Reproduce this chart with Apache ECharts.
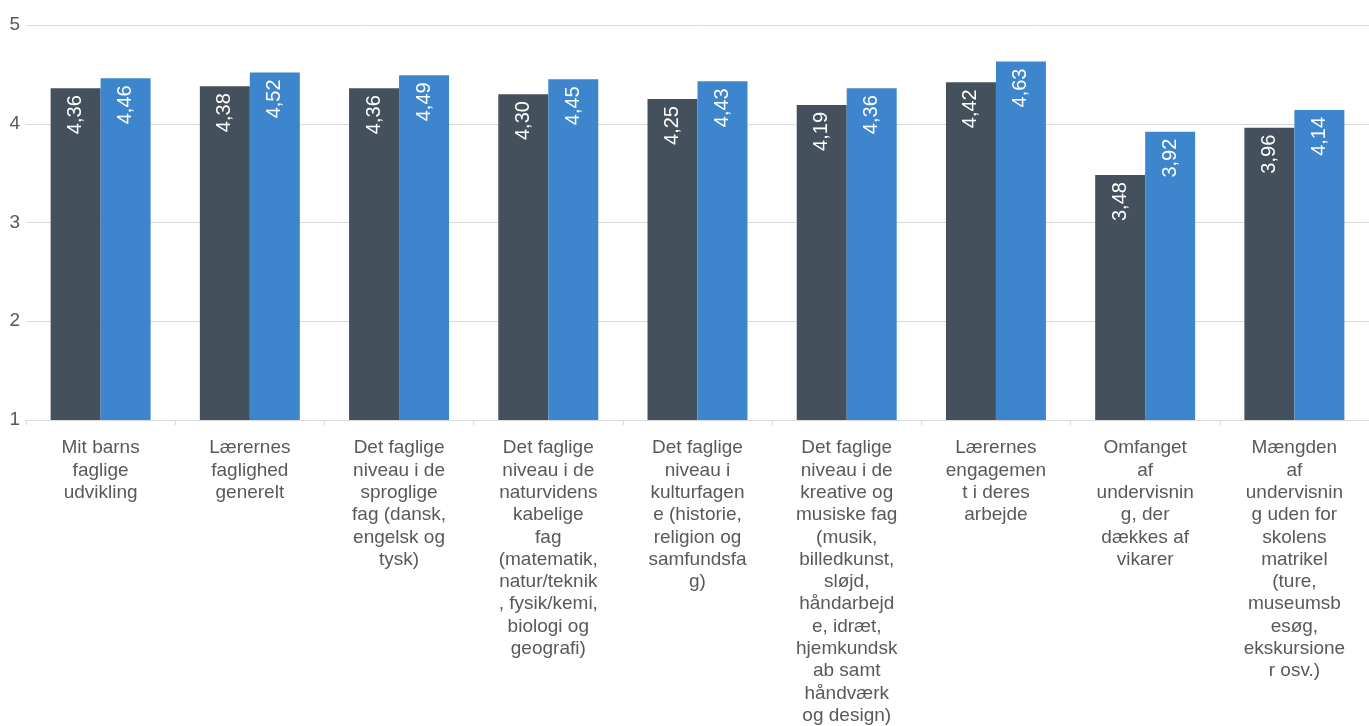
<!DOCTYPE html>
<html>
<head>
<meta charset="utf-8">
<script src="https://cdn.jsdelivr.net/npm/echarts@6/dist/echarts.min.js"></script>
<style>
html, body { margin: 0; padding: 0; background: #fff; }
#chart { width: 1369px; height: 726px; }
</style>
</head>
<body>
<div id="chart"></div>
<script>
var categories = [
    'Mit barns\nfaglige\nudvikling',
    'Lærernes\nfaglighed\ngenerelt',
    'Det faglige\nniveau i de\nsproglige\nfag (dansk,\nengelsk og\ntysk)',
    'Det faglige\nniveau i de\nnaturvidens\nkabelige\nfag\n(matematik,\nnatur/teknik\n, fysik/kemi,\nbiologi og\ngeografi)',
    'Det faglige\nniveau i\nkulturfagen\ne (historie,\nreligion og\nsamfundsfa\ng)',
    'Det faglige\nniveau i de\nkreative og\nmusiske fag\n(musik,\nbilledkunst,\nsløjd,\nhåndarbejd\ne, idræt,\nhjemkundsk\nab samt\nhåndværk\nog design)',
    'Lærernes\nengagemen\nt i deres\narbejde',
    'Omfanget\naf\nundervisnin\ng, der\ndækkes af\nvikarer',
    'Mængden\naf\nundervisnin\ng uden for\nskolens\nmatrikel\n(ture,\nmuseumsb\nesøg,\nekskursione\nr osv.)'
];
var seriesA = [4.36, 4.38, 4.36, 4.30, 4.25, 4.19, 4.42, 3.48, 3.96];
var seriesB = [4.46, 4.52, 4.49, 4.45, 4.43, 4.36, 4.63, 3.92, 4.14];
var yTicks = [1, 2, 3, 4, 5];

var chart = echarts.init(document.getElementById('chart'));
var font = 'Liberation Sans, Arial, sans-serif';

function barLabel() {
    return {
        show: true,
        position: 'insideTop',
        rotate: 90,
        align: 'right',
        verticalAlign: 'middle',
        distance: 7,
        color: '#fff',
        fontFamily: font,
        fontSize: 20,
        formatter: function (p) { return p.value.toFixed(2).replace('.', ','); }
    };
}

chart.setOption({
    animation: false,
    grid: { left: 26, right: 0, top: 25, bottom: 306, outerBoundsMode: 'none', containLabel: false },
    xAxis: {
        type: 'category',
        data: categories,
        axisLine: { lineStyle: { color: '#d9d9d9' } },
        axisTick: { show: true, length: 5, lineStyle: { color: '#d9d9d9' } },
        axisLabel: {
            interval: 0,
            color: '#595959',
            fontFamily: font,
            fontSize: 19,
            lineHeight: 22.3,
            margin: 17
        }
    },
    yAxis: {
        type: 'value',
        min: yTicks[0],
        max: yTicks[yTicks.length - 1],
        interval: 1,
        axisLine: { show: false },
        axisTick: { show: false },
        splitLine: { lineStyle: { color: '#d9d9d9' } },
        axisLabel: {
            color: '#595959',
            fontFamily: font,
            fontSize: 19,
            margin: 6,
            verticalAlign: 'middle',
            padding: [0, 0, 8, 0]
        }
    },
    series: [{
        type: 'bar',
        data: seriesA,
        itemStyle: { color: '#44505b' },
        barGap: '0%',
        barCategoryGap: '33%',
        label: barLabel()
    }, {
        type: 'bar',
        data: seriesB,
        itemStyle: { color: '#3d85cd' },
        barGap: '0%',
        barCategoryGap: '33%',
        label: barLabel()
    }]
});
</script>
</body>
</html>
